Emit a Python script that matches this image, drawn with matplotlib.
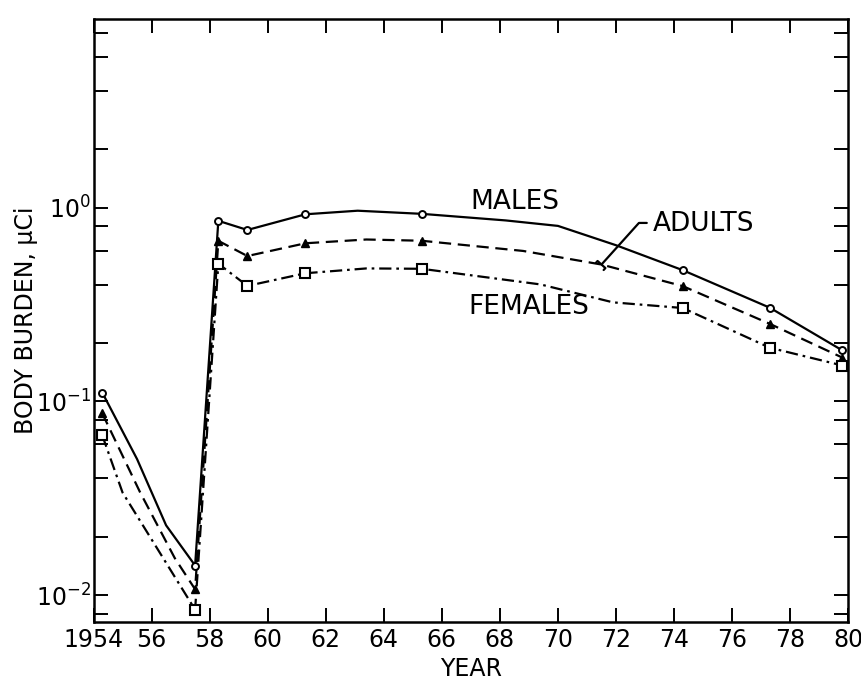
import numpy as np
import matplotlib
matplotlib.use("Agg")
import matplotlib.pyplot as plt
from matplotlib.ticker import FixedLocator, LogLocator, NullFormatter

plt.rcParams['font.family'] = ['DejaVu Sans']
plt.rcParams['mathtext.fontset'] = 'dejavusans'

# measured points (markers)
years = [1954.3, 1957.5, 1958.3, 1959.3, 1961.3, 1965.3, 1974.3, 1977.3, 1979.8]
males = [0.111, 0.0142, 0.854, 0.766, 0.923, 0.928, 0.475, 0.304, 0.183]
adults = [0.0867, 0.0107, 0.673, 0.562, 0.654, 0.674, 0.393, 0.251, 0.168]
females = [0.0668, 0.0084, 0.513, 0.394, 0.458, 0.483, 0.303, 0.189, 0.153]

# extra points (between markers)
males_tx = [1955.5, 1956.5, 1963.1, 1968.2, 1970.0, 1972.0]
males_ty = [0.0503, 0.0229, 0.963, 0.858, 0.804, 0.639]
adults_tx = [1955.6, 1956.8, 1963.4, 1968.8, 1971.5]
adults_ty = [0.034, 0.0155, 0.684, 0.597, 0.508]
females_tx = [1955.0, 1956.4, 1963.4, 1969.4, 1971.9]
females_ty = [0.0338, 0.0155, 0.485, 0.401, 0.324]

xticks = list(range(1954, 1981, 2))
xticklabels = ['1954'] + [str(t % 100) for t in xticks[1:]]


def curve(mx, my, tx, ty):
    x = np.concatenate([mx, tx])
    y = np.concatenate([my, ty])
    o = np.argsort(x)
    return x[o], y[o]


fig = plt.figure(figsize=(8.62, 6.91), dpi=100)
ax = fig.add_axes([0.1085, 0.0999, 0.984 - 0.1085, 0.9725 - 0.0999])

lw = 1.6
x, y = curve(years, males, males_tx, males_ty)
ax.plot(x, y, color='black', lw=lw, ls='-')
x, y = curve(years, adults, adults_tx, adults_ty)
ax.plot(x, y, color='black', lw=lw, ls=(0, (5.5, 3)))
x, y = curve(years, females, females_tx, females_ty)
ax.plot(x, y, color='black', lw=lw, ls=(0, (5.5, 2.2, 1.2, 2.2)))

ax.plot(years, males, ls='none', marker='o', ms=5, mfc='white', mec='black', mew=1.4)
ax.plot(years, adults, ls='none', marker='^', ms=5.5, mfc='black', mec='black', mew=1.0)
ax.plot(years, females, ls='none', marker='s', ms=6.5, mfc='white', mec='black', mew=1.5)

ax.set_yscale('log')
ax.set_xlim(1954, 1980)
ax.set_ylim(0.00726, 9.4)

ax.xaxis.set_major_locator(FixedLocator(xticks))
ax.set_xticklabels(xticklabels)
ax.yaxis.set_major_locator(FixedLocator([0.01, 0.1, 1.0]))
ax.set_yticklabels(['$10^{-2}$', '$10^{-1}$', '$10^{0}$'])
ax.yaxis.set_minor_locator(LogLocator(base=10, subs=(2, 4, 6, 8)))
ax.yaxis.set_minor_formatter(NullFormatter())

ax.tick_params(which='both', direction='in', top=True, right=True,
               length=10, width=1.4, labelsize=17, pad=4)
ax.tick_params(axis='y', pad=2)
for s in ax.spines.values():
    s.set_linewidth(1.8)

ax.set_xlabel('YEAR', fontsize=17, labelpad=4)
ax.set_ylabel('BODY BURDEN, \u03bcCi', fontsize=17, labelpad=-2)

ax.text(1968.5, 1.07, 'MALES', fontsize=19, ha='center', va='center')
ax.text(1969.0, 0.305, 'FEMALES', fontsize=19, ha='center', va='center')
ax.annotate('ADULTS', xy=(adults_tx[-1], adults_ty[-1]), xytext=(1975.0, 0.82),
            fontsize=19, ha='center', va='center',
            arrowprops=dict(arrowstyle='-[, widthB=0.2, lengthB=0.1', color='black', lw=1.6,
                            relpos=(0, 0.55), shrinkA=2, shrinkB=0,
                            connectionstyle='angle,angleA=0,angleB=48,rad=0'))

fig.savefig('out.png', dpi=100)
